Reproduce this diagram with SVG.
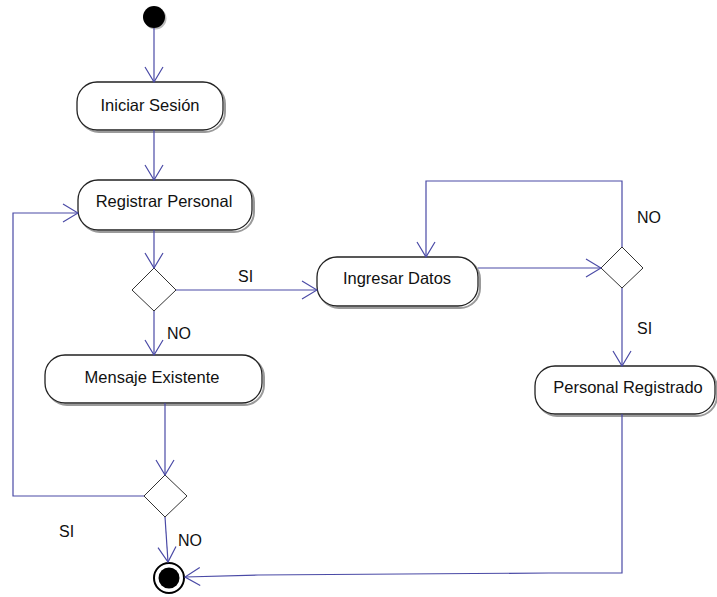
<svg xmlns="http://www.w3.org/2000/svg" width="717" height="597" viewBox="0 0 717 597">
  <style>
    .act { fill: #ffffff; stroke: #222222; stroke-width: 1.3; }
    .shadow { fill: none; stroke: #9a9a9a; stroke-width: 2; }
    .dec { fill: #ffffff; stroke: #333333; stroke-width: 1; }
    .lbl { font-family: "Liberation Sans", Arial, sans-serif; font-size: 16.5px; fill: #111111; }
    .guard { font-family: "Liberation Sans", Arial, sans-serif; font-size: 16px; fill: #111111; }
    .flow { fill: none; stroke: #4a4aa6; stroke-width: 1.2; marker-end: url(#open); }
  </style>
  <defs>
    <marker id="open" markerUnits="userSpaceOnUse" viewBox="-17 -11 18 22" markerWidth="18" markerHeight="22" refX="0" refY="0" orient="auto">
      <path d="M-15,-9 L0,0 L-15,9" fill="none" stroke="#4a4aa6" stroke-width="1.2"/>
    </marker>
  </defs>
  <rect width="717" height="597" fill="#ffffff"/>

  <!-- start / end -->
  <g id="start">
    <circle cx="155.5" cy="18.5" r="11" fill="#bbbbbb"/>
    <circle cx="154" cy="17" r="11" fill="#000000"/>
  </g>
  <g id="end">
    <circle cx="169" cy="578" r="15" fill="#ffffff" stroke="#000000" stroke-width="2"/>
    <circle cx="169" cy="578" r="10.5" fill="#000000"/>
  </g>

  <!-- activities -->
  <g id="iniciar-sesion">
    <rect class="shadow" x="79" y="84" width="146" height="48" rx="20"/>
    <rect class="act" x="77" y="82" width="146" height="48" rx="20"/>
    <text class="lbl" x="150" y="111" text-anchor="middle">Iniciar Sesión</text>
  </g>
  <g id="registrar-personal">
    <rect class="shadow" x="80" y="182" width="174" height="50" rx="20"/>
    <rect class="act" x="78" y="180" width="174" height="50" rx="20"/>
    <text class="lbl" x="164" y="207" text-anchor="middle">Registrar Personal</text>
  </g>
  <g id="mensaje-existente">
    <rect class="shadow" x="47" y="357" width="217" height="48" rx="20"/>
    <rect class="act" x="45" y="355" width="217" height="48" rx="20"/>
    <text class="lbl" x="152" y="383" text-anchor="middle">Mensaje Existente</text>
  </g>
  <g id="ingresar-datos">
    <rect class="shadow" x="319" y="259" width="161" height="49" rx="20"/>
    <rect class="act" x="317" y="257" width="161" height="49" rx="20"/>
    <text class="lbl" x="397" y="284" text-anchor="middle">Ingresar Datos</text>
  </g>
  <g id="personal-registrado">
    <rect class="shadow" x="537" y="368" width="180" height="48" rx="20"/>
    <rect class="act" x="535" y="366" width="180" height="48" rx="20"/>
    <text class="lbl" x="628" y="393" text-anchor="middle">Personal Registrado</text>
  </g>

  <!-- decisions -->
  <g id="dec-existe">
    <polygon class="dec" points="154,268 176,290 154,311 132,290"/>
  </g>
  <g id="dec-retorno">
    <polygon class="dec" points="165,475 187,496 165,517 144,496"/>
  </g>
  <g id="dec-datos">
    <polygon class="dec" points="622,247 643,268 622,288 601,268"/>
  </g>

  <!-- flows -->
  <g id="connectors">
    <line class="flow" x1="154" y1="28" x2="154" y2="82"/>
    <line class="flow" x1="154" y1="130" x2="154" y2="180"/>
    <line class="flow" x1="154" y1="230" x2="154" y2="268"/>
    <line class="flow" x1="176" y1="290" x2="317" y2="290"/>
    <line class="flow" x1="154" y1="311" x2="154" y2="355"/>
    <line class="flow" x1="165" y1="403" x2="165" y2="475"/>
    <polyline class="flow" points="144,496 13,496 13,213 78,213"/>
    <line class="flow" x1="165" y1="517" x2="168" y2="562"/>
    <line class="flow" x1="478" y1="268" x2="601" y2="268"/>
    <polyline class="flow" points="622,247 622,181 426,181 426,257"/>
    <line class="flow" x1="622" y1="288" x2="622" y2="366"/>
    <polyline class="flow" points="622,414 622,573 549,573 258,575 185,577"/>
  </g>

  <!-- guards -->
  <g id="guards">
    <text class="guard" x="238" y="282">SI</text>
    <text class="guard" x="167" y="339">NO</text>
    <text class="guard" x="637" y="223">NO</text>
    <text class="guard" x="637" y="334">SI</text>
    <text class="guard" x="59" y="537">SI</text>
    <text class="guard" x="178" y="546">NO</text>
  </g>
</svg>
